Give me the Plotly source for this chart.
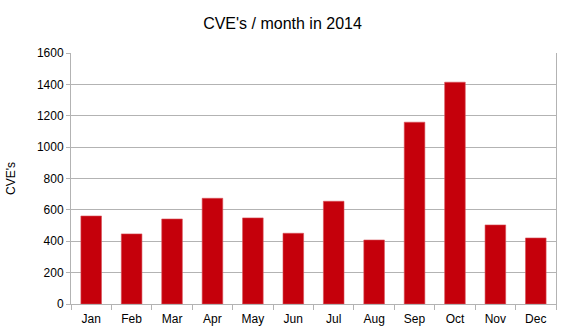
import plotly.graph_objects as go

months = ["Jan", "Feb", "Mar", "Apr", "May", "Jun",
          "Jul", "Aug", "Sep", "Oct", "Nov", "Dec"]
cves = [561, 447, 542, 674, 549, 451, 655, 408, 1159, 1414, 504, 421]
y_ticks = [0, 200, 400, 600, 800, 1000, 1200, 1400, 1600]

grid = "#b3b3b3"
font = "Liberation Sans, Arial, sans-serif"

fig = go.Figure(
    go.Bar(
        x=months,
        y=cves,
        marker=dict(color="#c5000b", line=dict(color="#d9525a", width=0.6)),
        width=0.51,
    )
)

fig.update_layout(
    width=565,
    height=332,
    margin=dict(l=71, r=9, t=53, b=28),
    paper_bgcolor="white",
    plot_bgcolor="white",
    showlegend=False,
    font=dict(family=font, size=12, color="black"),
    title=dict(
        text="CVE's / month in 2014",
        x=0.5, xanchor="center",
        y=1 - 23 / 332, yanchor="middle",
        font=dict(family=font, size=16, color="black"),
    ),
)

fig.update_xaxes(
    type="category",
    automargin=False,
    tickson="boundaries",
    ticks="outside",
    ticklen=5,
    tickcolor=grid,
    showline=True,
    linecolor=grid,
    linewidth=1,
    mirror=False,
    showgrid=False,
    ticklabelstandoff=4,
    tickfont=dict(size=12),
)

fig.update_yaxes(
    range=[0, 1600],
    automargin=False,
    tickvals=y_ticks,
    ticks="outside",
    ticklen=4,
    tickcolor=grid,
    showline=True,
    linecolor=grid,
    linewidth=1,
    mirror=True,
    showgrid=True,
    gridcolor=grid,
    gridwidth=1,
    zeroline=False,
    tickfont=dict(size=12),
    title=dict(text="CVE's", standoff=18, font=dict(size=12)),
)

fig.write_html("out.html")
